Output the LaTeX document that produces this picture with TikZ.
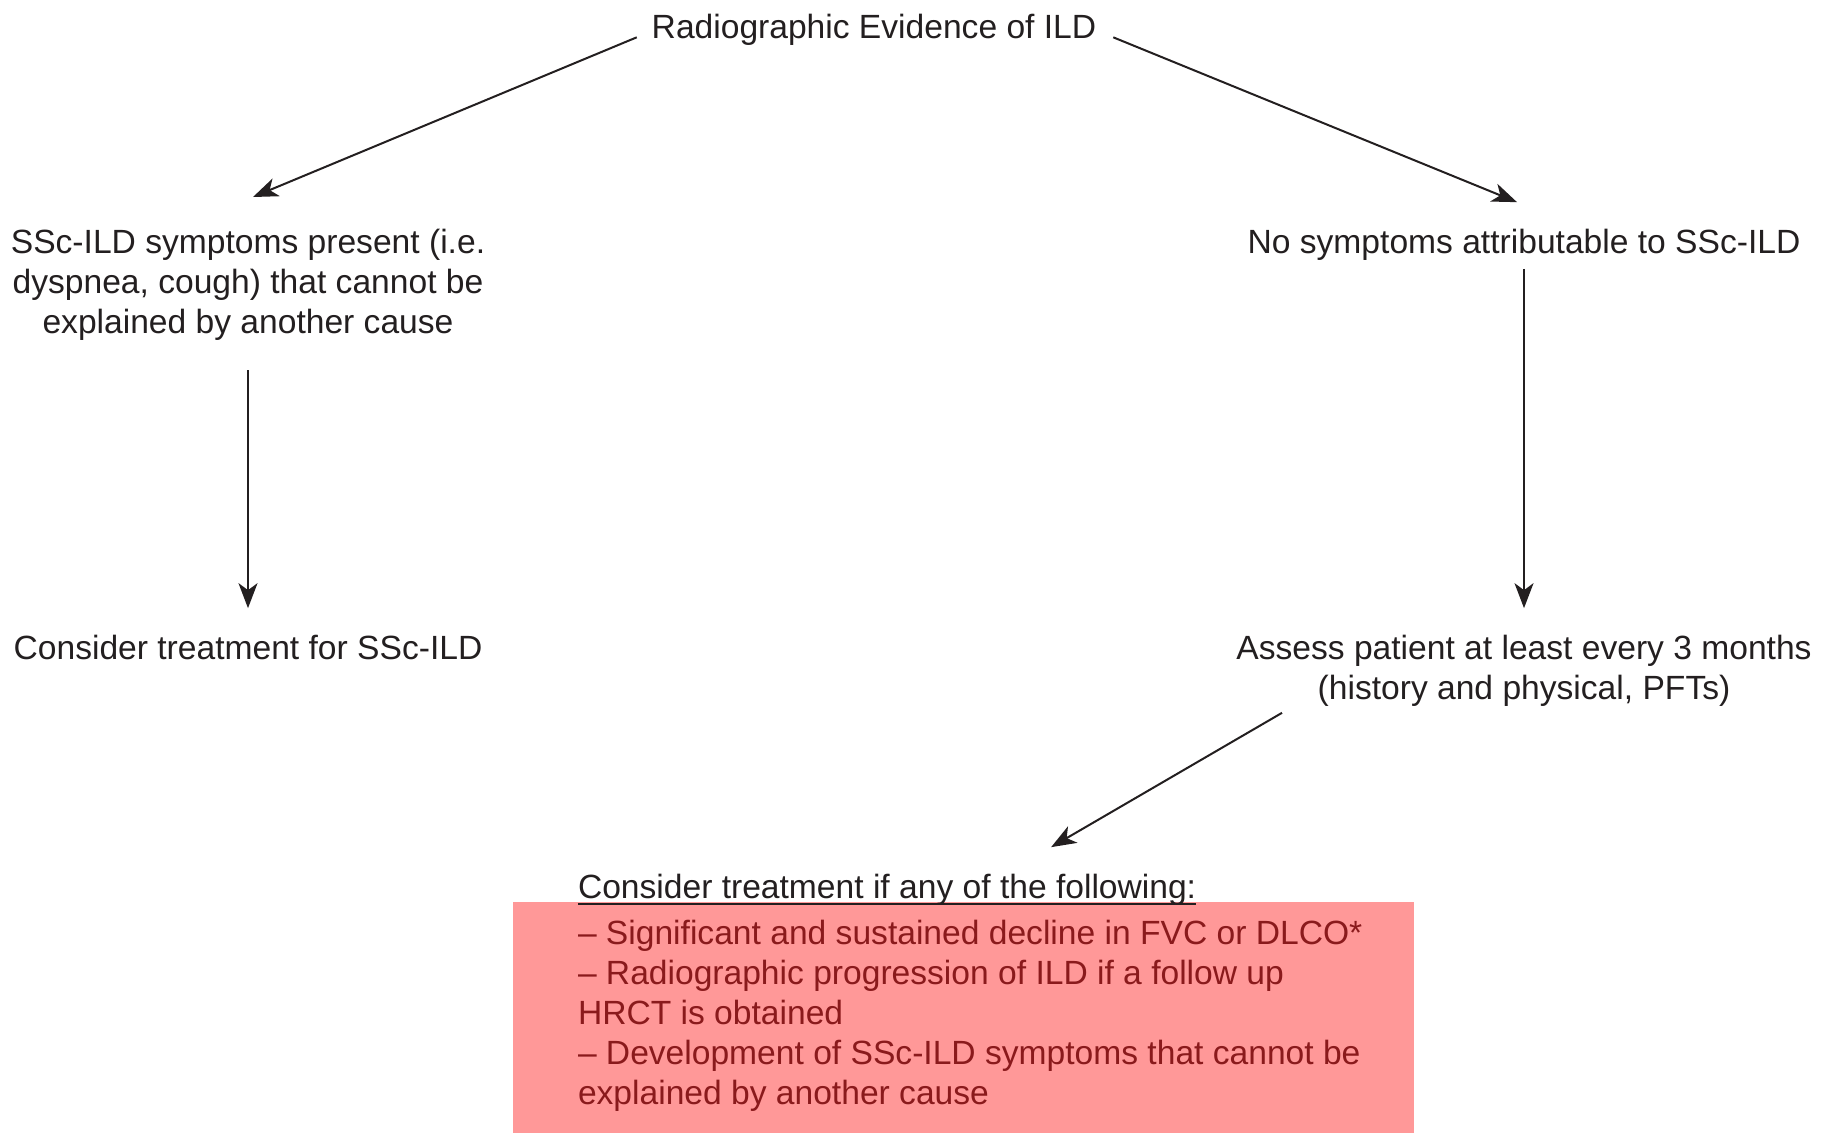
\documentclass[tikz,border=0pt]{standalone}
\usepackage{fontspec}
\setmainfont{Liberation Sans}
\usetikzlibrary{arrows.meta,calc}
\definecolor{ink}{HTML}{231F20}
\definecolor{boxpink}{HTML}{FF9898}
\definecolor{redtxt}{HTML}{8A1A1C}
\begin{document}
\begin{tikzpicture}[x=1pt,y=-1pt,
  every node/.style={inner sep=0pt,outer sep=0pt,text=ink,font=\fontsize{33.6}{40}\selectfont},
  lbl/.style={anchor=base},
  blk/.style={anchor=north,align=center},
  arr/.style={draw=ink,line width=2pt,-{Stealth[length=25pt,width=19pt,inset=7pt]}}]
\useasboundingbox (0,0) rectangle (1827,1133);
% nodes
\node[lbl] (title) at (874,38) {Radiographic Evidence of ILD};
\node[blk] (symL) at (248,229) {SSc-ILD symptoms present (i.e.\\dyspnea, cough) that cannot be\\explained by another cause};
\node[lbl] (symR) at (1524,253) {No symptoms attributable to SSc-ILD};
\node[lbl] (treatL) at (248,659) {Consider treatment for SSc-ILD};
\node[blk] (assess) at (1524,635) {Assess patient at least every 3 months\\(history and physical, PFTs)};
\node[fill=boxpink,minimum width=901pt,minimum height=231pt,anchor=north west] (box) at (513,902) {};
\node[anchor=base west] (head) at (578,898) {Consider treatment if any of the following:};
\node[anchor=north west,align=left,text=redtxt] (crit) at (578,920) {– Significant and sustained decline in FVC or DLCO*\\– Radiographic progression of ILD if a follow up\\HRCT is obtained\\– Development of SSc-ILD symptoms that cannot be\\explained by another cause};
\draw[ink,line width=1.6pt] ([yshift=-6pt]head.base west) -- ([yshift=-6pt]head.base east);
% connectors
\draw[arr] ($(title.west)+(-15,8)$) -- ($(symL.north)+(5,-32)$);
\draw[arr] ($(title.east)+(17,8)$) -- ($(symR.north)+(-7,-26.5)$);
\draw[arr] ($(symL.south)+(0,30)$) -- ($(treatL.north)+(0,-26.5)$);
\draw[arr] ($(symR.south)+(0,9)$) -- ($(treatL.north -| assess.north)+(0,-26.5)$);
\draw[arr] ($(assess.south)+(-242,6.5)$) -- ($(head.north)+(164,-26.5)$);
\end{tikzpicture}
\end{document}
